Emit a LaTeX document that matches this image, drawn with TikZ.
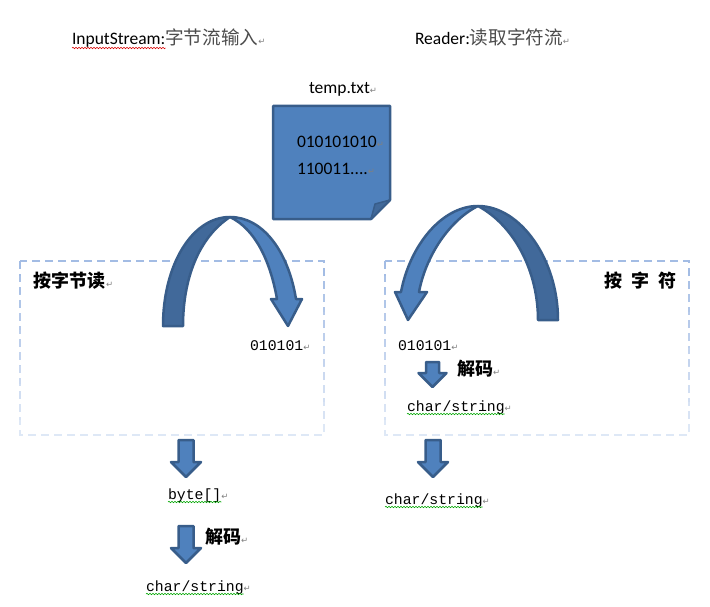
\documentclass[tikz,border=0pt]{standalone}
\usepackage{fontspec}
\usepackage{xcolor}
\setmainfont{Carlito}
\setmonofont{Liberation Mono}
\newfontfamily\cjk{Noto Sans CJK SC}
\newfontfamily\markfont{DejaVu Sans}
\definecolor{noteBlue}{HTML}{4F81BD}
\definecolor{lineBlue}{HTML}{385D8A}
\definecolor{darkBlue}{HTML}{41699A}
\definecolor{boxTop}{HTML}{A3BCE4}
\definecolor{boxEnd}{HTML}{DFE8F6}
\usepackage{tikz}
\usetikzlibrary{decorations.pathmorphing}
\tikzset{
  blockpart/.style={fill=noteBlue,draw=lineBlue,line width=2.5pt,line join=round},
  darkpart/.style={blockpart,fill=darkBlue},
  word/.style={inner sep=0pt,outer sep=0pt,anchor=base west,font=\fontsize{17.5}{20}\selectfont},
  monoword/.style={word,font=\ttfamily\fontsize{14.8}{18}\selectfont},
  cnword/.style={word,font=\cjk\fontsize{18.6}{20}\selectfont,text=black!70},
  cnbold/.style={word,font=\cjk\bfseries\fontsize{18}{20}\selectfont},
  retmark/.style={word,font=\markfont\fontsize{8.5}{10}\selectfont,text=black!50},
  redwave/.style={draw=red!85!black,line width=0.6pt,decorate,decoration={snake,amplitude=0.7pt,segment length=3pt}},
  greenwave/.style={redwave,draw=green!65!black}
}
% small block arrow: centre, top, half shaft, half head, shoulder, tip
\newcommand{\blockDown}[6]{
  \draw[blockpart] (#1-#3,#2) -- (#1+#3,#2) -- (#1+#3,#5) -- (#1+#4,#5) -- (#1,#6)
    -- (#1-#4,#5) -- (#1-#3,#5) -- cycle;
}
\begin{document}
\begin{tikzpicture}[x=1pt,y=-1pt]
\useasboundingbox (0,0) rectangle (710,607);
% dashed boxes, paler towards the bottom
\foreach \xa/\xb in {20/324,385/689} {
  \foreach \n in {0,...,9} {
    \pgfmathsetmacro{\mixval}{100-\n*11}
    \begin{scope}
      \clip (0,{258+\n*18}) rectangle (710,{258+(\n+1)*18});
      \draw[boxTop!\mixval!boxEnd,line width=1.6pt,dash pattern=on 8pt off 5pt]
        (\xa,261) rectangle (\xb,435);
    \end{scope}
  }
}
% the note
\draw[blockpart] (273,106) -- (390,106) -- (390,200) -- (371,219) -- (273,219) -- cycle;
\draw[darkpart,line width=1.5pt] (390,200) -- (375,204) -- (371,219) -- cycle;
% left curved arrow
\draw[darkpart] (163,326) .. controls (163,265) and (192,217) .. (230,217)
  .. controls (198,238) and (183,280) .. (183,326) -- cycle;
\draw[blockpart] (230,217) .. controls (262,217) and (288,250) .. (296,299)
  -- (302,299) -- (288,326) -- (271,299) -- (277,299)
  .. controls (270,260) and (255,229) .. (230,217) -- cycle;
% right curved arrow
\draw[darkpart] (558,320) .. controls (558,259) and (520,206) .. (478,206)
  .. controls (515,226) and (538,272) .. (538,320) -- cycle;
\draw[blockpart] (478,206) .. controls (442,206) and (410,245) .. (401,292)
  -- (395,292) -- (408,320) -- (427,292) -- (419,292)
  .. controls (426,255) and (450,220) .. (478,206) -- cycle;
% small arrows
\blockDown{186}{440}{7.5}{15}{462}{477}
\blockDown{186}{526}{7.5}{15}{548}{563}
\blockDown{432.5}{362}{6.5}{14}{373}{387}
\blockDown{433}{440}{7.5}{15}{462}{477}
% headings
\node[word] (inputTitle) at (72,45) {InputStream:};
\node[cnword] (inputCn) at (inputTitle.base east) {字节流输入};
\node[retmark] (inputMark) at (inputCn.base east) {↵};
\draw[redwave] ([yshift=-3pt]inputTitle.base west) -- ([yshift=-3pt]inputTitle.base east);
\node[word] (readerTitle) at (415,45) {Reader:};
\node[cnword] (readerCn) at (readerTitle.base east) {读取字符流};
\node[retmark] (readerMark) at (readerCn.base east) {↵};
% file
\node[word] (fileName) at (309,94) {temp.txt};
\node[retmark] (fileMark) at (fileName.base east) {↵};
\node[word] (bitsOne) at (297,148) {010101010};
\node[retmark] (bitsOneMark) at (bitsOne.base east) {↵};
\node[word] (bitsTwo) at (297,175) {110011....};
\node[retmark] (bitsTwoMark) at (bitsTwo.base east) {↵};
% left side
\node[cnbold] (byteTitle) at (34,287) {按字节读};
\node[retmark] (byteMark) at (byteTitle.base east) {↵};
\node[monoword] (byteBits) at (250,350) {010101};
\node[retmark] (byteBitsMark) at (byteBits.base east) {↵};
\node[monoword] (byteArray) at (168,499) {byte[]};
\node[retmark] (byteArrayMark) at (byteArray.base east) {↵};
\draw[greenwave] ([yshift=-3pt]byteArray.base west) -- ([yshift=-3pt]byteArray.base east);
\node[cnbold] (byteDecode) at (205,543) {解码};
\node[retmark] (byteDecodeMark) at (byteDecode.base east) {↵};
\node[monoword] (byteChar) at (146,591) {char/string};
\node[retmark] (byteCharMark) at (byteChar.base east) {↵};
\draw[greenwave] ([yshift=-3pt]byteChar.base west) -- ([yshift=-3pt]byteChar.base east);
% right side
\node[cnbold] (charTitle) at (604,287) {按\hspace{9pt}字\hspace{9pt}符};
\node[monoword] (charBits) at (398,350) {010101};
\node[retmark] (charBitsMark) at (charBits.base east) {↵};
\node[cnbold] (charDecode) at (457,375) {解码};
\node[retmark] (charDecodeMark) at (charDecode.base east) {↵};
\node[monoword] (charInner) at (407,411) {char/string};
\node[retmark] (charInnerMark) at (charInner.base east) {↵};
\draw[greenwave] ([yshift=-3pt]charInner.base west) -- ([yshift=-3pt]charInner.base east);
\node[monoword] (charOuter) at (385,504) {char/string};
\node[retmark] (charOuterMark) at (charOuter.base east) {↵};
\draw[greenwave] ([yshift=-3pt]charOuter.base west) -- ([yshift=-3pt]charOuter.base east);
\end{tikzpicture}
\end{document}
